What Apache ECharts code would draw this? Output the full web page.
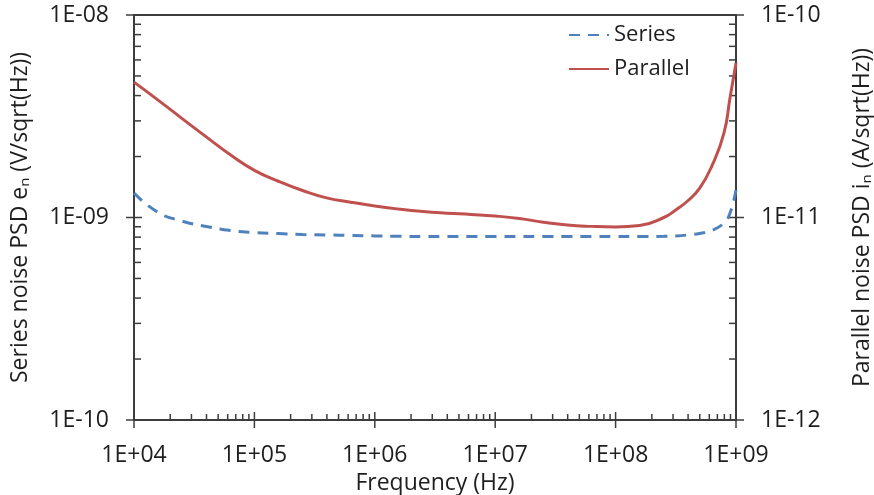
<!DOCTYPE html>
<html>
<head>
<meta charset="utf-8">
<script src="https://cdn.jsdelivr.net/npm/echarts@6/dist/echarts.min.js"></script>
<style>
  html, body { margin: 0; padding: 0; background: #fff; }
  #main { width: 874px; height: 495px; }
</style>
</head>
<body>
<div id="main"></div>
<script>
// frequency points (Hz), read every 0.2 decade, finer near 1 GHz
var freq = [1e4, 1.585e4, 2.512e4, 3.981e4, 6.31e4,
  1e5, 1.585e5, 2.512e5, 3.981e5, 6.31e5,
  1e6, 1.585e6, 2.512e6, 3.981e6, 6.31e6,
  1e7, 1.585e7, 2.512e7, 3.981e7, 6.31e7,
  1e8, 1.585e8, 2.512e8, 3.162e8, 3.981e8, 5.012e8, 6.31e8, 7.943e8, 8.913e8, 1e9];
// series noise e_n (V/sqrt(Hz)), left axis
var seriesNoise = [1.32e-9, 1.06e-9, 9.6e-10, 9.03e-10, 8.63e-10,
  8.43e-10, 8.34e-10, 8.24e-10, 8.2e-10, 8.15e-10,
  8.11e-10, 8.08e-10, 8.06e-10, 8.06e-10, 8.06e-10,
  8.06e-10, 8.06e-10, 8.06e-10, 8.06e-10, 8.06e-10,
  8.06e-10, 8.06e-10, 8.07e-10, 8.11e-10, 8.2e-10, 8.34e-10, 8.63e-10, 9.4e-10, 1.05e-9, 1.37e-9];
// parallel noise i_n (A/sqrt(Hz)), right axis
var parallelNoise = [4.66e-11, 3.8e-11, 3.08e-11, 2.5e-11, 2.04e-11,
  1.71e-11, 1.51e-11, 1.36e-11, 1.25e-11, 1.19e-11,
  1.14e-11, 1.1e-11, 1.07e-11, 1.05e-11, 1.035e-11,
  1.017e-11, 9.89e-12, 9.48e-12, 9.18e-12, 9.04e-12,
  8.98e-12, 9.13e-12, 1.0e-11, 1.09e-11, 1.21e-11, 1.4e-11, 1.8e-11, 2.61e-11, 3.89e-11, 5.8e-11];

var seriesNames = ['Series', 'Parallel'];
var xName = 'Frequency (Hz)';
var leftName = 'Series noise PSD e\u2099 (V/sqrt(Hz))';
var rightName = 'Parallel noise PSD i\u2099 (A/sqrt(Hz))';

var FONT = '"Open Sans", sans-serif';
var AXIS_COLOR = '#3c3c3c';
var TEXT_COLOR = '#1e1e1e';

function expLabel(v) {
  var e = Math.round(Math.log10(v));
  var s = e < 0 ? '-' : '+';
  var a = Math.abs(e);
  return '1E' + s + (a < 10 ? '0' + a : a);
}

function pairs(xs, ys) {
  return xs.map(function (x, i) { return [x, ys[i]]; });
}

var chart = echarts.init(document.getElementById('main'));

var yCommon = {
  type: 'log',
  logBase: 10,
  nameLocation: 'middle',
  nameRotate: 90,
  nameTextStyle: { fontFamily: FONT, fontSize: 23, color: TEXT_COLOR },
  axisLine: { show: true, lineStyle: { color: AXIS_COLOR, width: 2 } },
  axisTick: { show: false },
  minorTick: { show: false },
  splitLine: { show: false },
  axisLabel: { fontFamily: FONT, fontSize: 23, color: TEXT_COLOR, margin: 25, formatter: expLabel }
};

var option = {
  animation: false,
  backgroundColor: '#fff',
  grid: {
    left: 134, right: 138, top: 15, bottom: 75,
    outerBoundsMode: 'none',
    show: true, borderColor: AXIS_COLOR, borderWidth: 2, backgroundColor: 'transparent'
  },
  legend: {
    data: seriesNames,
    orient: 'vertical',
    left: 563, top: 19,
    itemWidth: 40, itemHeight: 14, itemGap: 12,
    itemStyle: { opacity: 0 },
    textStyle: { fontFamily: FONT, fontSize: 22, color: TEXT_COLOR }
  },
  xAxis: {
    type: 'log',
    logBase: 10,
    min: 1e4, max: 1e9,
    name: xName,
    nameLocation: 'middle',
    nameGap: 48,
    nameTextStyle: { fontFamily: FONT, fontSize: 23, color: TEXT_COLOR },
    axisLine: { show: true, onZero: false, lineStyle: { color: AXIS_COLOR, width: 2 } },
    axisTick: { show: false },
    minorTick: { show: false },
    splitLine: { show: false },
    axisLabel: { fontFamily: FONT, fontSize: 23, color: TEXT_COLOR, margin: 24, formatter: expLabel }
  },
  yAxis: [
    Object.assign({}, yCommon, { min: 1e-10, max: 1e-8, name: leftName, nameGap: 102, position: 'left' }),
    Object.assign({}, yCommon, { min: 1e-12, max: 1e-10, name: rightName, nameGap: 115, position: 'right' })
  ],
  series: [
    {
      name: seriesNames[0],
      type: 'line',
      yAxisIndex: 0,
      smooth: 0.5,
      symbol: 'none',
      data: pairs(freq, seriesNoise),
      lineStyle: { color: '#4f81bd', width: 3, type: [11, 8] },
      itemStyle: { color: '#4f81bd' }
    },
    {
      name: seriesNames[1],
      type: 'line',
      yAxisIndex: 1,
      smooth: 0.5,
      symbol: 'none',
      data: pairs(freq, parallelNoise),
      lineStyle: { color: '#c0504d', width: 3 },
      itemStyle: { color: '#c0504d' }
    }
  ]
};

chart.setOption(option);

// tick marks: major ticks cross the axis, minor ticks point into the plot
function tickMarks() {
  var g = [];
  var ls = { stroke: AXIS_COLOR, lineWidth: 1.5 };
  var x0 = chart.convertToPixel({ xAxisIndex: 0 }, 1e4);
  var x1 = chart.convertToPixel({ xAxisIndex: 0 }, 1e9);
  var yb = chart.convertToPixel({ yAxisIndex: 0 }, 1e-10);

  function line(a, b, c, d) {
    g.push({ type: 'line', shape: { x1: a, y1: b, x2: c, y2: d }, style: ls, silent: true });
  }

  for (var e = 4; e <= 9; e++) {
    var px = chart.convertToPixel({ xAxisIndex: 0 }, Math.pow(10, e));
    line(px, yb - 8, px, yb + 8);
    if (e < 9) {
      for (var m = 2; m <= 9; m++) {
        var mx = chart.convertToPixel({ xAxisIndex: 0 }, m * Math.pow(10, e));
        line(mx, yb, mx, yb - 6);
      }
    }
  }
  [[0, -10, -8, x0, 1], [1, -12, -10, x1, -1]].forEach(function (ax) {
    for (var e = ax[1]; e <= ax[2]; e++) {
      var py = chart.convertToPixel({ yAxisIndex: ax[0] }, Math.pow(10, e));
      line(ax[3] - 8, py, ax[3] + 8, py);
      if (e < ax[2]) {
        for (var m = 2; m <= 9; m++) {
          var my = chart.convertToPixel({ yAxisIndex: ax[0] }, m * Math.pow(10, e));
          line(ax[3], my, ax[3] + 7 * ax[4], my);
        }
      }
    }
  });
  chart.setOption({ graphic: g });
}
tickMarks();
</script>
</body>
</html>
